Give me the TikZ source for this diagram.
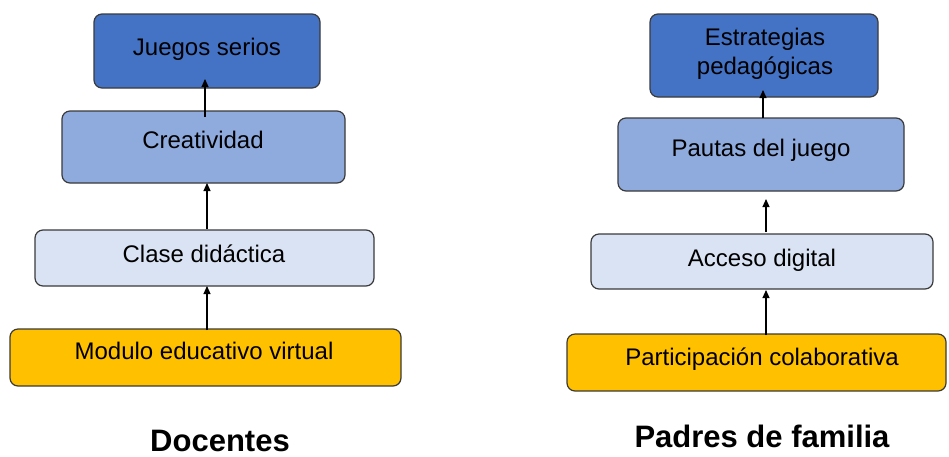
\documentclass[tikz,border=0pt]{standalone}
\usepackage{fontspec}
\setmainfont{Liberation Sans}
\usetikzlibrary{arrows.meta}
\definecolor{tierdark}{HTML}{4472C4}
\definecolor{tiermid}{HTML}{8FAADC}
\definecolor{tierlight}{HTML}{DAE3F3}
\definecolor{tierbase}{HTML}{FFC000}
\definecolor{boxline}{HTML}{3A3A3A}
\begin{document}
\begin{tikzpicture}[x=1pt,y=-1pt,
  box/.style={draw=boxline, line width=1.2pt, rounded corners=8pt,
              inner sep=0pt, outer sep=0pt},
  lbl/.style={anchor=base, inner sep=0pt, text=black,
              font=\fontsize{24}{29}\selectfont},
  ttl/.style={anchor=base, inner sep=0pt, text=black, text depth=0pt,
              font=\fontsize{31}{36}\selectfont\bfseries},
  arr/.style={-{Triangle[length=8pt,width=7pt]}, line width=1.1pt, draw=black}]
\useasboundingbox (0,0) rectangle (949,456);

% ---- Docentes column ----
\node[box, fill=tierdark,  minimum width=226pt, minimum height=74pt] (j)  at (207,51)    {};
\node[box, fill=tiermid,   minimum width=283pt, minimum height=72pt] (c)  at (203.5,147) {};
\node[box, fill=tierlight, minimum width=339pt, minimum height=56pt] (cl) at (204.5,258) {};
\node[box, fill=tierbase,  minimum width=391pt, minimum height=57pt] (m)  at (205.5,357.5) {};

\node[lbl] (jt)  at (207,55)  {Juegos serios};
\node[lbl] (ct)  at (203,148) {Creatividad};
\node[lbl] (clt) at (204,262) {Clase didáctica};
\node[lbl] (mt)  at (204,359) {Modulo educativo virtual};
\node[ttl] (doc) at (220,451) {Docentes};

\draw[arr] ([xshift=1.5pt,yshift=-6pt]c.north) -- ([xshift=-2pt,yshift=9pt]j.south);
\draw[arr] ([xshift=2.5pt,yshift=1pt]cl.north) -- ([xshift=3.5pt]c.south);
\draw[arr] ([xshift=1.5pt,yshift=-1pt]m.north) -- ([xshift=2.5pt]cl.south);

% ---- Padres de familia column ----
\node[box, fill=tierdark,  minimum width=228pt, minimum height=83pt] (e)  at (764,55.5)  {};
\node[box, fill=tiermid,   minimum width=286pt, minimum height=73pt] (p)  at (761,154.5) {};
\node[box, fill=tierlight, minimum width=342pt, minimum height=55pt] (a)  at (762,261.5) {};
\node[box, fill=tierbase,  minimum width=379pt, minimum height=57pt] (pa) at (756.5,362.5) {};

% two-line label: anchor=base sits on the last line
\node[lbl, align=center] (et) at (765,74) {Estrategias\\pedagógicas};
\node[lbl] (pt)  at (761,156) {Pautas del juego};
\node[lbl] (at)  at (762,266) {Acceso digital};
\node[lbl] (pat) at (762,365) {Participación colaborativa};
\node[ttl] (pf)  at (762,447) {Padres de familia};

\draw[arr] ([xshift=2pt]p.north) -- ([xshift=-1pt,yshift=7pt]e.south);
\draw[arr] ([xshift=4pt,yshift=2pt]a.north) -- ([xshift=5pt,yshift=-8pt]p.south);
\draw[arr] ([xshift=9.5pt,yshift=-1pt]pa.north) -- ([xshift=4pt,yshift=-1pt]a.south);
\end{tikzpicture}
\end{document}
